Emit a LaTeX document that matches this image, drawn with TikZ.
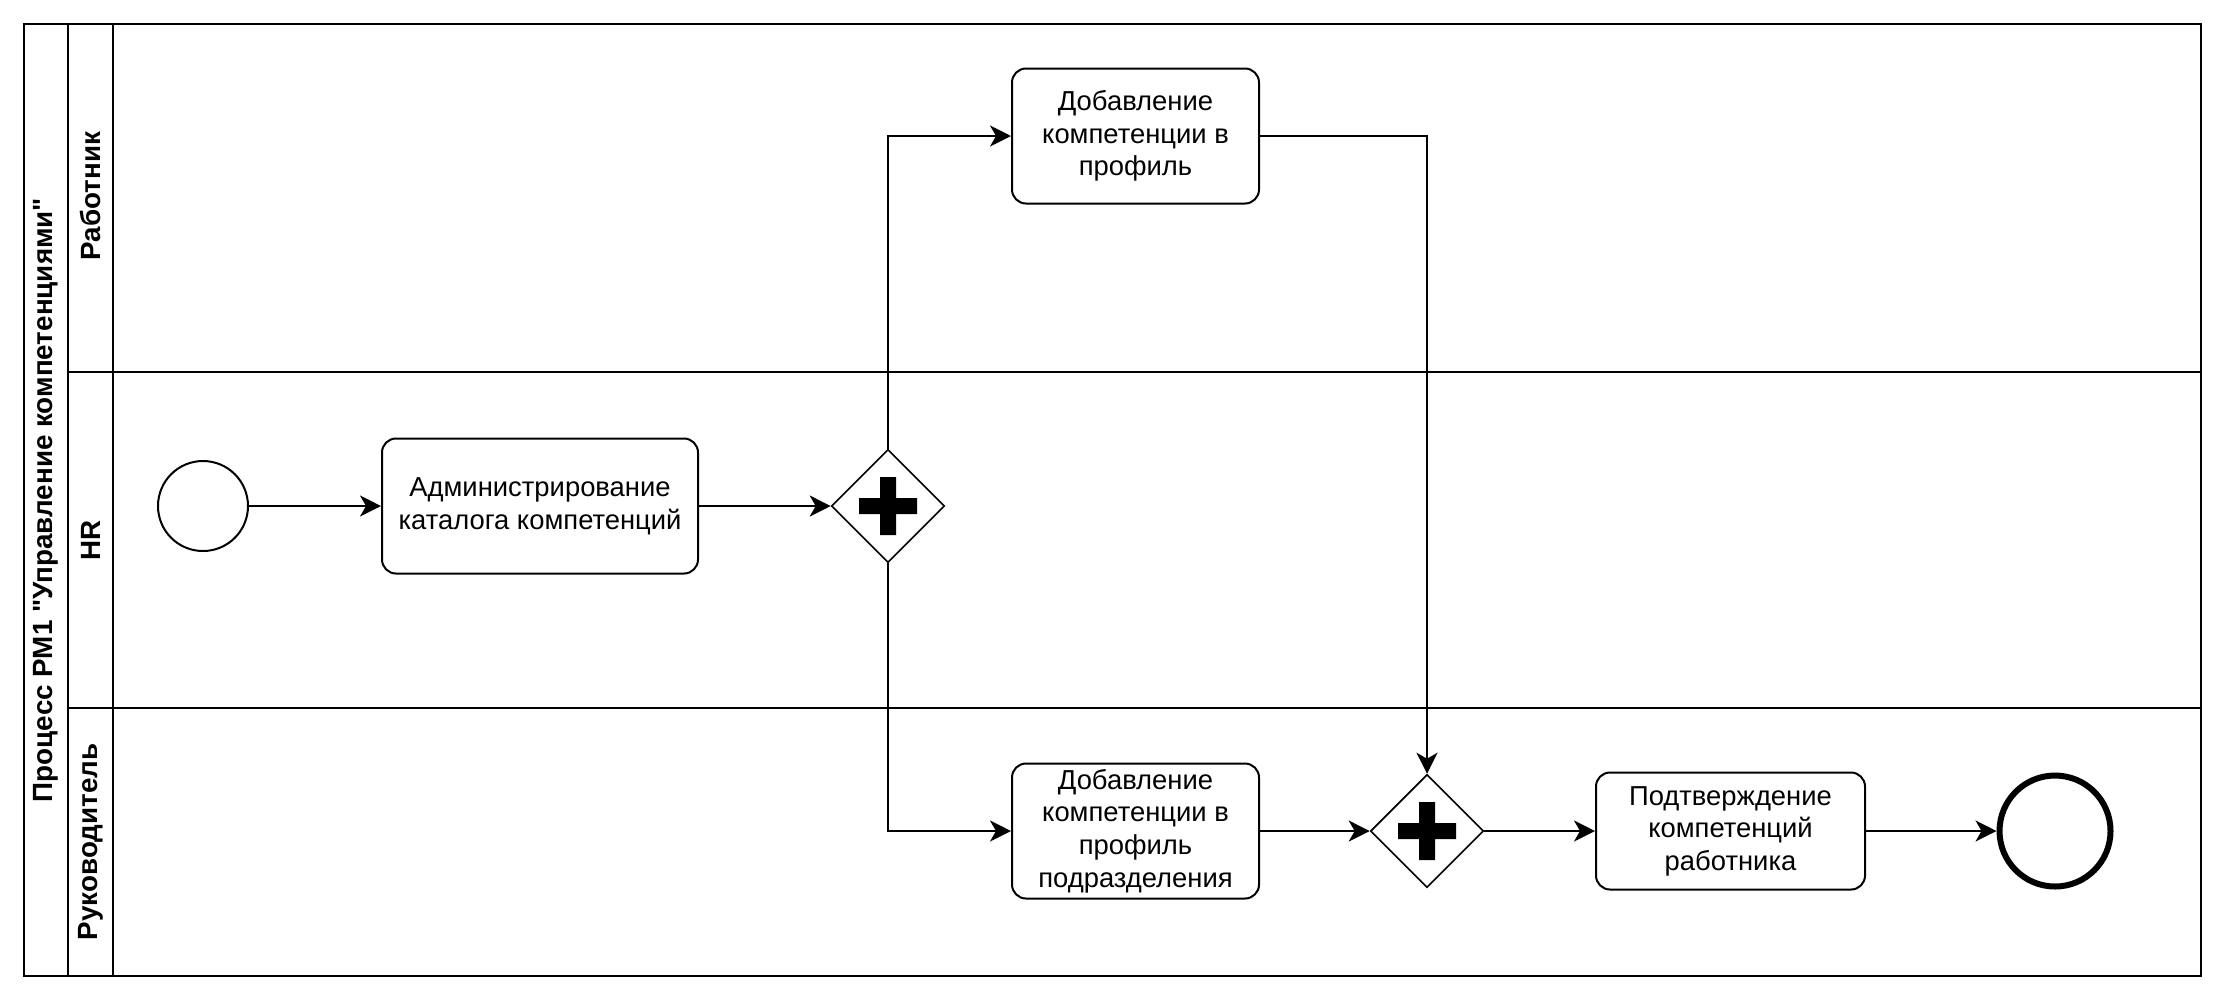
\documentclass[tikz,border=0pt]{standalone}
\usepackage{fontspec}
\setmainfont{Liberation Sans}
\newfontfamily\plainsans{Liberation Sans}
\usetikzlibrary{shapes.geometric,arrows.meta,calc}
\tikzset{
  frameline/.style={line width=1pt, draw=black},
  task/.style={draw=black, line width=1pt, rounded corners=7pt, align=center, inner sep=2pt,
    font=\fontsize{13.7}{16.3}\selectfont, fill=white},
  gateway/.style={draw=black, line width=0.8pt, diamond, inner sep=0pt, minimum size=56.5pt, fill=white},
  startev/.style={draw=black, line width=1pt, circle, inner sep=0pt, minimum size=45pt},
  endev/.style={draw=black, line width=3pt, circle, inner sep=0pt, minimum size=55.5pt},
  flow/.style={line width=1pt, -{Stealth[length=10.5pt, width=10.5pt, inset=3pt]}},
  lanelabel/.style={rotate=90, font=\plainsans\bfseries\fontsize{13.9}{16.3}\selectfont, inner sep=0pt},
}
\begin{document}
\begin{tikzpicture}[x=0.5pt, y=-0.5pt]
\useasboundingbox (0,0) rectangle (2225,1003);
% pool frame
\draw[frameline] (24,24) rectangle (2201,976);
\draw[frameline] (68,24) -- (68,976);
\draw[frameline] (113,24) -- (113,976);
\draw[frameline] (68,372) -- (2201,372);
\draw[frameline] (68,708) -- (2201,708);
% labels
\node[lanelabel] (title) at (46,500) {Процесс РМ1 "Управление компетенциями"};
\node[lanelabel] (l1) at (90.5,196) {Работник};
\node[lanelabel] (l2) at (90.5,540) {HR};
\node[lanelabel] (l3) at (90.5,842) {Руководитель};
% nodes
\node[startev] (start) at (203,506) {};
\node[task, minimum width=158pt, minimum height=67.5pt] (admin) at (540,506) {Администрирование\\каталога компетенций};
\node[gateway] (g1) at (888,506) {};
\node[task, minimum width=123.5pt, minimum height=67.5pt] (t1) at (1135.5,136) {Добавление\\компетенции в\\профиль};
\node[task, minimum width=123.5pt, minimum height=67.5pt] (t2) at (1135.5,831) {Добавление\\компетенции в\\профиль\\подразделения};
\node[gateway] (g2) at (1427,831) {};
\node[task, minimum width=134.5pt, minimum height=58.5pt] (t3) at (1730.5,831) {Подтверждение\\компетенций\\работника};
\node[endev] (end) at (2055,831) {};
% plus marks
\foreach \g in {g1,g2}{
  \fill[black, shift={(\g.center)}] (-8,-29) -- (8,-29) -- (8,-8) -- (29,-8) -- (29,8) -- (8,8) -- (8,29) -- (-8,29) -- (-8,8) -- (-29,8) -- (-29,-8) -- (-8,-8) -- cycle;
}
% flows
\draw[flow] (start) -- (admin);
\draw[flow] (admin) -- (g1);
\draw[flow] (g1.north) |- (t1.west);
\draw[flow] (g1.south) |- (t2.west);
\draw[flow] (t1.east) -| (g2.north);
\draw[flow] (t2) -- (g2);
\draw[flow] (g2) -- (t3);
\draw[flow] (t3) -- (end);
\end{tikzpicture}
\end{document}
